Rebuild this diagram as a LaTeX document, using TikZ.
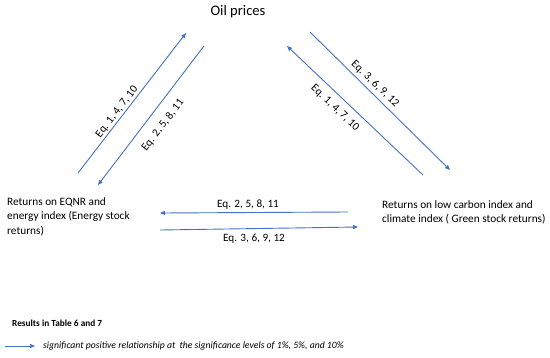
\documentclass[tikz,border=0pt]{standalone}
\usepackage{fontspec}
\setmainfont{Carlito}
\usetikzlibrary{arrows.meta}
\definecolor{arrblue}{HTML}{4472C4}
\begin{document}
\begin{tikzpicture}[x=1pt,y=-1pt,
  conn/.style={draw=arrblue, line width=0.9pt, -{Triangle[length=5pt,width=4pt]}},
  eqlabel/.style={font=\fontsize{11.2}{13}\selectfont, inner sep=0pt},
  maintext/.style={font=\fontsize{11.3}{14.5}\selectfont, align=left, inner sep=0pt, anchor=north west}]
\useasboundingbox[fill=white] (0,0) rectangle (550,357);
% nodes
\node[font=\fontsize{14.6}{17}\selectfont, inner sep=0pt] (oil) at (238,12) {Oil prices};
\node[maintext] (energy) at (7,197) {Returns on EQNR and\\energy index (Energy stock\\returns)};
\node[maintext] (green) at (382,200) {Returns on low carbon index and\\climate index ( Green stock returns)};
% coordinates of arrow ends
\coordinate (a1s) at (78,173);  \coordinate (a1e) at (186,33);
\coordinate (a2s) at (204,46);  \coordinate (a2e) at (98,185);
\coordinate (a3s) at (423,175); \coordinate (a3e) at (287,46);
\coordinate (a4s) at (310,32);  \coordinate (a4e) at (450,170);
\coordinate (h1s) at (348,212); \coordinate (h1e) at (160,213);
\coordinate (h2s) at (160,230); \coordinate (h2e) at (358,227);
% arrows
\draw[conn] (a1s) -- (a1e);
\draw[conn] (a2s) -- (a2e);
\draw[conn] (a3s) -- (a3e);
\draw[conn] (a4s) -- (a4e);
\draw[conn] (h1s) -- (h1e);
\draw[conn] (h2s) -- (h2e);
% labels
\node[eqlabel, rotate=52.4] (l1) at (117,112) {Eq. 1, 4, 7, 10};
\node[eqlabel, rotate=52.4] (l2) at (163,125) {Eq. 2, 5, 8, 11};
\node[eqlabel, rotate=-44] (l3) at (375,84) {Eq. 3, 6, 9, 12};
\node[eqlabel, rotate=-43.5] (l4) at (335,108) {Eq. 1, 4, 7, 10};
\node[eqlabel] (l5) at (248,205) {Eq. 2, 5, 8, 11};
\node[eqlabel] (l6) at (254,239) {Eq. 3, 6, 9, 12};
% legend
\node[font=\fontsize{9.3}{11}\selectfont\bfseries, inner sep=0pt, anchor=west] (res) at (12,323) {Results in Table 6 and 7};
\coordinate (lgs) at (5,346); \coordinate (lge) at (35,346);
\draw[conn, line width=0.7pt] (lgs) -- (lge);
\node[font=\fontsize{9.7}{11}\selectfont\itshape, inner sep=0pt, anchor=west] (lgt) at (43,346) {significant positive relationship at\ \ the significance levels of 1\%, 5\%, and 10\%};
\end{tikzpicture}
\end{document}
